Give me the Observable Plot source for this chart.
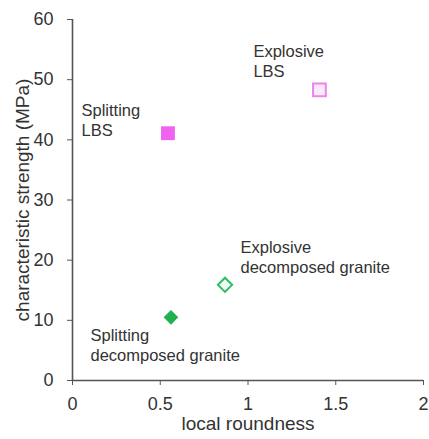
<!DOCTYPE html>
<html>
<head>
<meta charset="utf-8">
<script src="https://cdn.jsdelivr.net/npm/d3@7"></script>
<script src="https://cdn.jsdelivr.net/npm/@observablehq/plot@0.6"></script>
<style>
  body { margin: 0; background: #fff; }
  #chart svg { font-family: "Liberation Sans", Arial, sans-serif; }
</style>
</head>
<body>
<div id="chart"></div>
<script>
// Characteristic strength against local roundness for four aggregate types
const labels = [
  "Splitting\nLBS",
  "Explosive\nLBS",
  "Splitting\ndecomposed granite",
  "Explosive\ndecomposed granite"
];
const roundness = [0.544, 1.407, 0.561, 0.869];
const strength = [41.1, 48.3, 10.5, 15.9];
const xTicks = [0, 0.5, 1, 1.5, 2];
const yTicks = [0, 10, 20, 30, 40, 50, 60];

const rows = labels.map((label, i) => ({label, roundness: roundness[i], strength: strength[i]}));
const one = i => [rows[i]];

// marker style and label offset for each point
const styles = [
  {symbol: "square", r: 7.8, fill: "#f062f0", stroke: "none", dx: -86.5, dy: -31.7},
  {symbol: "square", r: 7.2, fill: "#fbe8fb", stroke: "#ea86ea", dx: -66, dy: -46.7},
  {symbol: "diamond2", r: 6.6, fill: "#1fb050", stroke: "none", dx: -80.5, dy: 9.8},
  {symbol: "diamond2", r: 6.4, fill: "#effaf2", stroke: "#2cbd63", dx: 15.5, dy: -45.7}
];

const axisColor = "#555";
const textColor = "#333";

const marks = [
  Plot.ruleY([0], {stroke: axisColor, strokeWidth: 1.6}),
  Plot.ruleX([0], {stroke: axisColor, strokeWidth: 1.6}),
  Plot.axisX({ticks: xTicks, tickSize: 5, tickPadding: 12, fontSize: 18, stroke: axisColor, fill: textColor, label: null, tickFormat: d => String(d)}),
  Plot.axisY({ticks: yTicks, tickSize: 5, tickPadding: 14, fontSize: 18, stroke: axisColor, fill: textColor, label: null}),
  Plot.text(["local roundness"], {frameAnchor: "bottom", dy: 49, fontSize: 19, fill: textColor}),
  Plot.text(["characteristic strength (MPa)"], {frameAnchor: "left", textAnchor: "middle", rotate: -90, dx: -50, fontSize: 19, fill: textColor})
];

styles.forEach((s, i) => {
  marks.push(Plot.dot(one(i), {
    x: "roundness", y: "strength", symbol: () => s.symbol, r: s.r,
    fill: s.fill, stroke: s.stroke, strokeWidth: 2
  }));
  marks.push(Plot.text(one(i), {
    x: "roundness", y: "strength", text: "label",
    textAnchor: "start", lineAnchor: "top", lineHeight: 1.21,
    dx: s.dx, dy: s.dy, fontSize: 16.5, fill: textColor
  }));
});

const chart = Plot.plot({
  width: 429,
  height: 439,
  marginLeft: 72,
  marginRight: 6,
  marginTop: 19,
  marginBottom: 59,
  style: {background: "#fff", color: textColor, overflow: "visible"},
  x: {domain: [0, 2]},
  y: {domain: [0, 60]},
  symbol: {type: "identity"},
  marks
});
document.getElementById("chart").append(chart);
</script>
</body>
</html>
